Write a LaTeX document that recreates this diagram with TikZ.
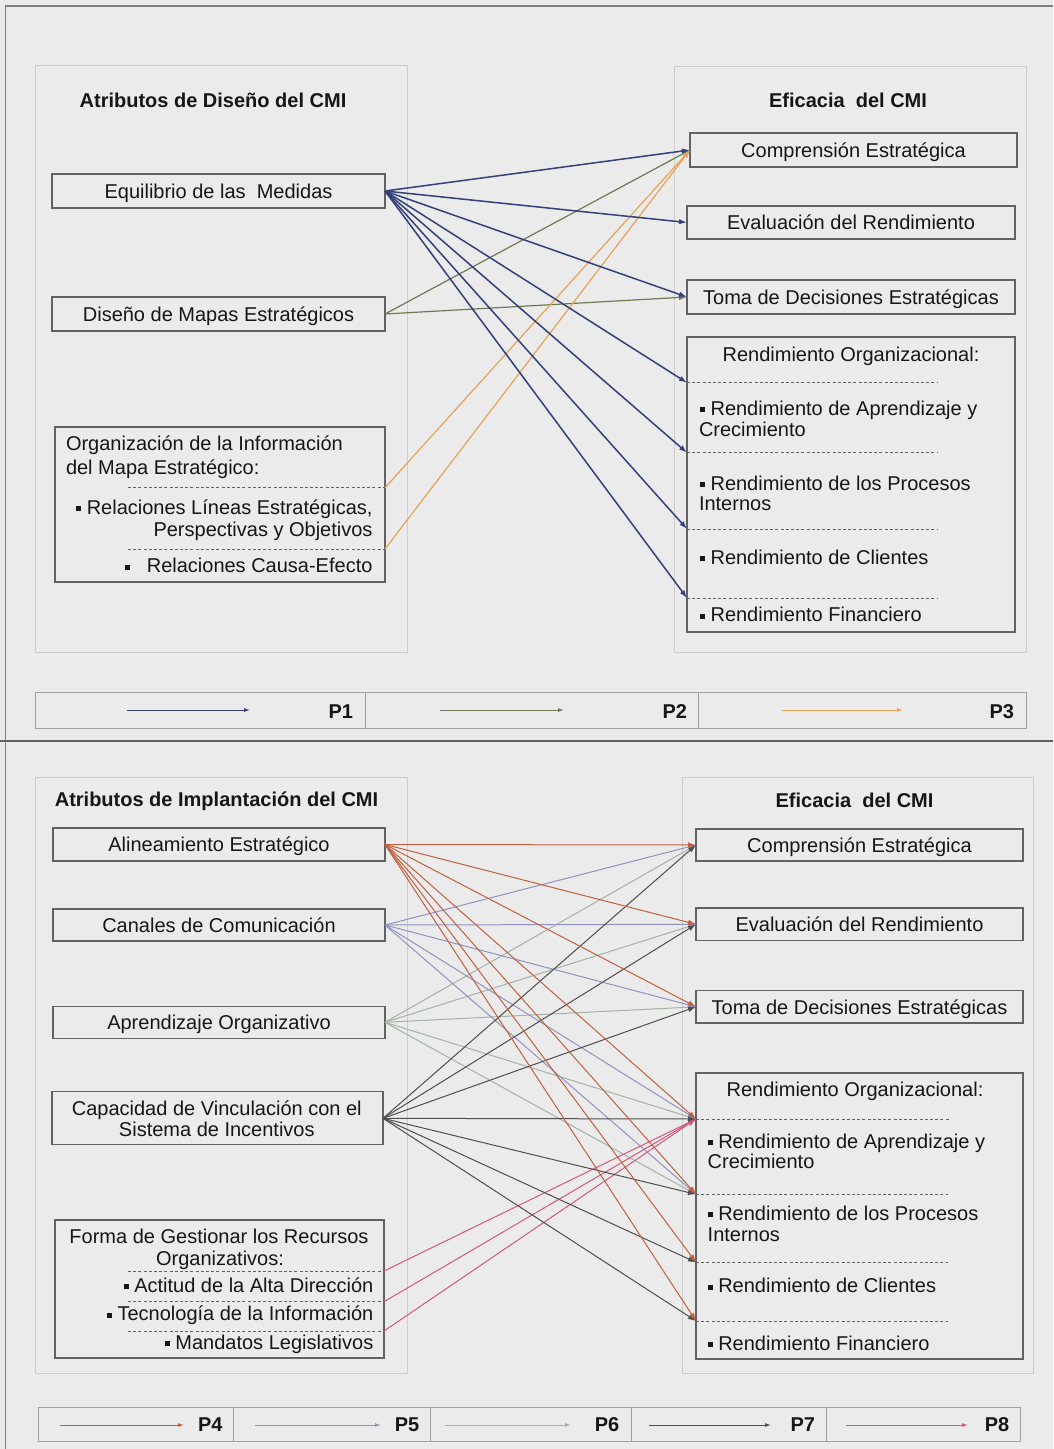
\documentclass[tikz,border=0pt]{standalone}
\usepackage{fontspec}
\setmainfont{Liberation Sans}
\usetikzlibrary{arrows.meta}

\definecolor{bg}{HTML}{EBEBEB}
\definecolor{frame}{HTML}{7E7E7E}
\definecolor{boxline}{HTML}{626262}
\definecolor{grpline}{HTML}{CDCDCD}
\definecolor{cellline}{HTML}{A0A0A0}
\definecolor{ink}{HTML}{161616}
\definecolor{pone}{HTML}{34407A}
\definecolor{ptwo}{HTML}{6E7A52}
\definecolor{pthree}{HTML}{E6A257}
\definecolor{pfour}{HTML}{C0603E}
\definecolor{pfive}{HTML}{9292C2}
\definecolor{psix}{HTML}{A3B3A6}
\definecolor{pseven}{HTML}{4E4E4E}
\definecolor{peight}{HTML}{D2587A}

% small square bullet
\newcommand\sqb{\rule[3pt]{5pt}{5pt}}

\begin{document}
\begin{tikzpicture}[x=1pt,y=-1pt,
  every node/.style={font=\fontsize{20}{24}\selectfont, text=ink, inner sep=0pt, outer sep=0pt},
  box/.style={draw=boxline, line width=1.1pt, text height=14.5pt, text depth=0pt},
  group/.style={draw=grpline, line width=0.8pt},
  cell/.style={draw=cellline, line width=0.9pt},
  title/.style={font=\fontsize{20}{24}\selectfont\bfseries, anchor=base},
  plabel/.style={font=\fontsize{20}{24}\selectfont\bfseries, anchor=base east},
  txt/.style={anchor=base west},
  rtxt/.style={anchor=base east},
  ctxt/.style={anchor=base},
  sep/.style={draw=boxline, line width=1pt, dash pattern=on 3pt off 2.2pt},
  link/.style={line width=1.2pt, -{Latex[length=8pt,width=5.5pt]}},
  thin link/.style={line width=1pt, -{Latex[length=8pt,width=5.5pt]}},
  key/.style={line width=1pt, -{Latex[length=6pt,width=4pt]}}
]
\useasboundingbox (0,0) rectangle (1053,1449);
\fill[bg] (0,0) rectangle (1053,1449);

% outer frame lines
\draw[frame, line width=1.5pt] (5,6) -- (1053,6);
\draw[frame, line width=1.5pt] (5.5,6) -- (5.5,1449);
\draw[boxline, line width=2.5pt] (0,741) -- (1053,741);

% ================= upper panel =================
\node[group, minimum width=372pt, minimum height=587pt] (g1) at (221,358.5) {};
\node[group, minimum width=352pt, minimum height=586pt] (g2) at (850,359) {};

\node[title] (t1) at (213,107) {Atributos de Diseño del CMI};
\node[title] (t2) at (848,107) {Eficacia\ \ del CMI};

\node[box, minimum width=333pt, minimum height=34pt] (eq)  at (218.5,191) {Equilibrio de las\ \ Medidas};
\node[box, minimum width=333pt, minimum height=34pt] (dis) at (218.5,314) {Diseño de Mapas Estratégicos};
\node[box, minimum width=330pt, minimum height=155pt] (org) at (220,504.5) {};

\node[txt]  (o1) at (66,450.7) {Organización de la Información};
\node[txt]  (o2) at (66,474.3) {del Mapa Estratégico:};
\coordinate (od1s) at (128,487.7); \coordinate (od1) at (385,487.7);
\draw[sep] (od1s) -- (od1);
\node[rtxt] (o3) at (372.5,514.3) {\sqb\ Relaciones Líneas Estratégicas,};
\node[rtxt] (o4) at (372.5,536.7) {Perspectivas y Objetivos};
\coordinate (od2s) at (128,549); \coordinate (od2) at (385,549);
\draw[sep] (od2s) -- (od2);
\node[rtxt] (o5) at (372.5,572.7) {\sqb\ \ \ Relaciones Causa-Efecto};

\node[box, minimum width=327pt, minimum height=34pt] (comp) at (853.5,150) {Comprensión Estratégica};
\node[box, minimum width=328pt, minimum height=33pt] (eval) at (851,222.5) {Evaluación del Rendimiento};
\node[box, minimum width=328pt, minimum height=34pt] (toma) at (851,297) {Toma de Decisiones Estratégicas};
\node[box, minimum width=328pt, minimum height=295pt] (ro) at (851,484.5) {};

\node[ctxt] (r0) at (851,361.7) {Rendimiento Organizacional:};
\coordinate (rd1) at (687,382.7); \coordinate (rd1e) at (938,382.7);
\draw[sep] (rd1) -- (rd1e);
\node[txt] (r1) at (700,415) {\sqb\ Rendimiento de Aprendizaje y};
\node[txt] (r2) at (699,436) {Crecimiento};
\coordinate (rd2) at (687,452.7); \coordinate (rd2e) at (938,452.7);
\draw[sep] (rd2) -- (rd2e);
\node[txt] (r3) at (700,490) {\sqb\ Rendimiento de los Procesos};
\node[txt] (r4) at (699,510.7) {Internos};
\coordinate (rd3) at (687,529); \coordinate (rd3e) at (938,529);
\draw[sep] (rd3) -- (rd3e);
\node[txt] (r5) at (700,564.3) {\sqb\ Rendimiento de Clientes};
\coordinate (rd4) at (687,598); \coordinate (rd4e) at (938,598);
\draw[sep] (rd4) -- (rd4e);
\node[txt] (r6) at (700,621.7) {\sqb\ Rendimiento Financiero};

% connectors of the upper panel
\foreach \t in {comp.west,toma.west}
  \draw[link, ptwo] (dis.east) -- (\t);
\draw[link, pthree] (od1) -- (comp.west);
\draw[link, pthree] (od2) -- (comp.west);
\foreach \t in {comp.west,eval.west,toma.west,rd1,rd2,rd3,rd4}
  \draw[link, pone, line width=1.5pt] (eq.east) -- (\t);

% key of the upper panel
\node[cell, minimum width=330pt, minimum height=36pt] (k1) at (200,710) {};
\node[cell, minimum width=333pt, minimum height=36pt] (k2) at (531.5,710) {};
\node[cell, minimum width=328pt, minimum height=36pt] (k3) at (862,710) {};
\coordinate (k1a) at (127,710); \coordinate (k1b) at (250,710);
\coordinate (k2a) at (440,710); \coordinate (k2b) at (564,710);
\coordinate (k3a) at (782,710); \coordinate (k3b) at (903,710);
\draw[key, pone] (k1a) -- (k1b);
\draw[key, ptwo] (k2a) -- (k2b);
\draw[key, pthree] (k3a) -- (k3b);
\node[plabel] (p1) at (353,718.5) {P1};
\node[plabel] (p2) at (687,718.5) {P2};
\node[plabel] (p3) at (1014,718.5) {P3};

% ================= lower panel =================
\node[group, minimum width=372pt, minimum height=596pt] (g3) at (221,1075) {};
\node[group, minimum width=351pt, minimum height=596pt] (g4) at (857.5,1075) {};

\node[title] (t3) at (216.5,806.7) {Atributos de Implantación del CMI};
\node[title] (t4) at (854.5,807.7) {Eficacia\ \ del CMI};

\node[box, minimum width=332pt, minimum height=33pt] (al)  at (219,844.5) {Alineamiento Estratégico};
\node[box, minimum width=332pt, minimum height=32pt] (can) at (219,925) {Canales de Comunicación};
\node[box, minimum width=332pt, minimum height=32pt] (apr) at (219,1022.3) {Aprendizaje Organizativo};
\node[box, minimum width=331pt, minimum height=53pt] (cap) at (217.5,1118.3) {};
\node[ctxt] (c1) at (216.8,1115) {Capacidad de Vinculación con el};
\node[ctxt] (c2) at (216.8,1136) {Sistema de Incentivos};

\node[box, minimum width=329pt, minimum height=138pt] (forma) at (219.5,1289) {};
\node[ctxt] (f1) at (219,1243.3) {Forma de Gestionar los Recursos};
\node[ctxt] (f2) at (220,1265.7) {Organizativos:};
\coordinate (fd1s) at (128,1271); \coordinate (fd1) at (384,1271);
\draw[sep] (fd1s) -- (fd1);
\node[rtxt] (f3) at (373.3,1292.3) {\sqb\ Actitud de la Alta Dirección};
\coordinate (fd2s) at (128,1301.7); \coordinate (fd2) at (384,1301.7);
\draw[sep] (fd2s) -- (fd2);
\node[rtxt] (f4) at (373.3,1320.7) {\sqb\ Tecnología de la Información};
\coordinate (fd3s) at (128,1331); \coordinate (fd3) at (384,1331);
\draw[sep] (fd3s) -- (fd3);
\node[rtxt] (f5) at (373.3,1349.3) {\sqb\ Mandatos Legislativos};

\node[box, minimum width=327pt, minimum height=32pt] (bcomp) at (859.5,845) {Comprensión Estratégica};
\node[box, minimum width=327pt, minimum height=32.7pt] (beval) at (859.5,924.3) {Evaluación del Rendimiento};
\node[box, minimum width=327pt, minimum height=32.3pt] (btoma) at (859.5,1006.8) {Toma de Decisiones Estratégicas};
\node[box, minimum width=327pt, minimum height=286pt] (bro) at (859.5,1216) {};

\node[ctxt] (s0) at (855,1096.7) {Rendimiento Organizacional:};
\coordinate (bd1) at (696,1119); \coordinate (bd1e) at (950,1119);
\draw[sep] (bd1) -- (bd1e);
\node[txt] (s1) at (707.7,1148.3) {\sqb\ Rendimiento de Aprendizaje y};
\node[txt] (s2) at (707.7,1168.3) {Crecimiento};
\coordinate (bd2) at (696,1194.3); \coordinate (bd2e) at (948,1194.3);
\draw[sep] (bd2) -- (bd2e);
\node[txt] (s3) at (707.7,1220) {\sqb\ Rendimiento de los Procesos};
\node[txt] (s4) at (707.7,1241.7) {Internos};
\coordinate (bd3) at (696,1262.3); \coordinate (bd3e) at (948,1262.3);
\draw[sep] (bd3) -- (bd3e);
\node[txt] (s5) at (707.7,1292.7) {\sqb\ Rendimiento de Clientes};
\coordinate (bd4) at (696,1321); \coordinate (bd4e) at (948,1321);
\draw[sep] (bd4) -- (bd4e);
\node[txt] (s6) at (707.7,1350) {\sqb\ Rendimiento Financiero};

% connectors of the lower panel
\foreach \t in {bcomp.west,beval.west,btoma.west,bd1,bd2}
  \draw[thin link, psix] (apr.east) -- (\t);
\foreach \t in {bcomp.west,beval.west,btoma.west,bd1,bd2}
  \draw[thin link, pfive] (can.east) -- (\t);
\foreach \s in {fd1,fd2,fd3}
  \draw[thin link, peight] (\s) -- (bd1);
\foreach \t in {bcomp.west,beval.west,btoma.west,bd1,bd2,bd3,bd4}
  \draw[thin link, pseven] (cap.east) -- (\t);
\foreach \t in {bcomp.west,beval.west,btoma.west,bd1,bd2,bd3,bd4}
  \draw[thin link, pfour] (al.east) -- (\t);

% key of the lower panel
\node[cell, minimum width=195pt, minimum height=34pt] (k4) at (135.5,1424) {};
\node[cell, minimum width=197pt, minimum height=34pt] (k5) at (331.5,1424) {};
\node[cell, minimum width=201pt, minimum height=34pt] (k6) at (530.5,1424) {};
\node[cell, minimum width=195pt, minimum height=34pt] (k7) at (728.5,1424) {};
\node[cell, minimum width=194pt, minimum height=34pt] (k8) at (923,1424) {};
\coordinate (k4a) at (60,1425);  \coordinate (k4b) at (184,1425);
\coordinate (k5a) at (255,1425); \coordinate (k5b) at (381,1425);
\coordinate (k6a) at (445,1425); \coordinate (k6b) at (571,1425);
\coordinate (k7a) at (649,1425); \coordinate (k7b) at (771,1425);
\coordinate (k8a) at (846,1425); \coordinate (k8b) at (968,1425);
\draw[key, pfour] (k4a) -- (k4b);
\draw[key, pfive] (k5a) -- (k5b);
\draw[key, psix] (k6a) -- (k6b);
\draw[key, pseven] (k7a) -- (k7b);
\draw[key, peight] (k8a) -- (k8b);
\node[plabel] (p4) at (222.5,1431) {P4};
\node[plabel] (p5) at (419.3,1431) {P5};
\node[plabel] (p6) at (619.3,1431) {P6};
\node[plabel] (p7) at (815,1431) {P7};
\node[plabel] (p8) at (1009.3,1431) {P8};
\end{tikzpicture}
\end{document}
